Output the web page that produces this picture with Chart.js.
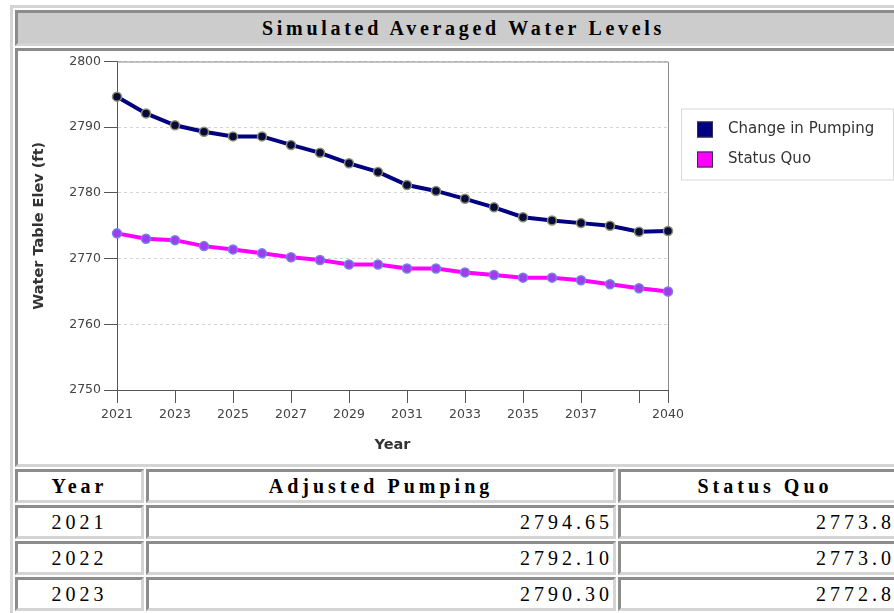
<!DOCTYPE html>
<html lang="en">
<head>
    <meta charset="UTF-8">
    <script src="https://cdn.jsdelivr.net/npm/chart.js@4.4.0/dist/chart.umd.min.js"></script>
    <style>
        html, body {
            margin: 0;
            padding: 0;
            background: #fff;
            overflow: hidden;
        }

        .frame {
            position: absolute;
            left: 10px;
            top: 5px;
            width: 907px;
            table-layout: fixed;
            border-collapse: separate;
            border-spacing: 2px;
            border: 3px solid;
            border-color: #d4d4d4 #8c8c8c #8c8c8c #d4d4d4;
        }

        .frame td {
            box-sizing: border-box;
            padding: 0;
            border: 3px solid;
            border-color: #8c8c8c #d4d4d4 #d4d4d4 #8c8c8c;
            font-family: "Liberation Serif", serif;
            font-size: 20px;
            letter-spacing: 4px;
            vertical-align: middle;
            white-space: nowrap;
            overflow: hidden;
        }

        .frame td.title {
            height: 36px;
            background: #cccccc;
            text-align: center;
            font-weight: bold;
            letter-spacing: 3.7px;
        }

        .frame td.chartcell {
            height: 419px;
            vertical-align: top;
            letter-spacing: 0;
        }

        .frame td.head {
            height: 34px;
            text-align: center;
            font-weight: bold;
        }

        .frame td.num {
            height: 34px;
            text-align: right;
        }

        .frame td.yr {
            height: 34px;
            text-align: center;
        }

        canvas {
            display: block;
            letter-spacing: 0;
        }
    </style>
    <title>Simulated Averaged Water Levels</title>
</head>
<body>
    <table class="frame" id="frame">
        <colgroup>
            <col style="width: 129px">
            <col style="width: 470px">
            <col style="width: 294px">
        </colgroup>
        <tr><td class="title" colspan="3">Simulated Averaged Water Levels</td></tr>
        <tr><td class="chartcell" colspan="3"><canvas id="levelsChart" width="891" height="413"></canvas></td></tr>
        <tr>
            <td class="head">Year</td>
            <td class="head">Adjusted Pumping</td>
            <td class="head">Status Quo</td>
        </tr>
    </table>

    <script>
        const years = [2021, 2022, 2023, 2024, 2025, 2026, 2027, 2028, 2029, 2030,
                       2031, 2032, 2033, 2034, 2035, 2036, 2037, 2038, 2039, 2040];
        const pumping = [2794.65, 2792.10, 2790.30, 2789.30, 2788.60, 2788.60, 2787.30, 2786.10, 2784.50, 2783.20,
                         2781.20, 2780.30, 2779.10, 2777.80, 2776.30, 2775.80, 2775.40, 2775.00, 2774.10, 2774.20];
        const statusQuo = [2773.84, 2773.02, 2772.81, 2771.90, 2771.40, 2770.80, 2770.20, 2769.80, 2769.10, 2769.10,
                           2768.50, 2768.50, 2767.90, 2767.50, 2767.10, 2767.10, 2766.70, 2766.10, 2765.50, 2765.00];
        const xTickValues = [2021, 2023, 2025, 2027, 2029, 2031, 2033, 2035, 2037, 2039, 2040];
        const xTickLabels = ['2021', '2023', '2025', '2027', '2029', '2031', '2033', '2035', '2037', '', '2040'];
        const yTickValues = [2750, 2760, 2770, 2780, 2790, 2800];
        const yTickLabels = ['2750', '2760', '2770', '2780', '2790', '2800'];

        // data rows under the chart
        const table = document.getElementById('frame');
        years.forEach((yr, i) => {
            const row = table.insertRow();
            const c1 = row.insertCell(); c1.className = 'yr'; c1.textContent = yr;
            const c2 = row.insertCell(); c2.className = 'num'; c2.textContent = pumping[i].toFixed(2);
            const c3 = row.insertCell(); c3.className = 'num'; c3.textContent = statusQuo[i].toFixed(2);
        });

        // gray top/right edges of the plot box
        const plotFrame = {
            id: 'plotFrame',
            beforeDatasetsDraw(chart) {
                const { ctx, chartArea: a } = chart;
                ctx.save();
                ctx.strokeStyle = '#8a8a8a';
                ctx.lineWidth = 1;
                ctx.beginPath();
                ctx.moveTo(a.left, a.top + 0.5);
                ctx.lineTo(a.right + 0.5, a.top + 0.5);
                ctx.lineTo(a.right + 0.5, a.bottom);
                ctx.stroke();
                ctx.restore();
            }
        };

        // boxed legend to the right of the plot
        const boxLegend = {
            id: 'boxLegend',
            afterDraw(chart) {
                const { ctx, chartArea: a } = chart;
                const x = a.right + 13, y = a.top + 47;
                ctx.save();
                ctx.fillStyle = '#fff';
                ctx.fillRect(x, y, 212, 71);
                ctx.strokeStyle = '#d8d8d8';
                ctx.lineWidth = 1;
                ctx.strokeRect(x + 0.5, y + 0.5, 212, 71);
                ctx.font = '15px "DejaVu Sans"';
                ctx.textBaseline = 'middle';
                chart.data.datasets.forEach((ds, i) => {
                    const sy = y + 13 + i * 30;
                    ctx.fillStyle = ds.borderColor;
                    ctx.fillRect(x + 16, sy, 16, 16);
                    ctx.strokeStyle = '#303040';
                    ctx.strokeRect(x + 16.5, sy + 0.5, 15, 15);
                    ctx.fillStyle = '#333';
                    ctx.fillText(ds.label, x + 47, sy + 8);
                });
                ctx.restore();
            }
        };

        const ctx = document.getElementById('levelsChart').getContext('2d');
        new Chart(ctx, {
            type: 'line',
            data: {
                datasets: [
                    {
                        label: 'Change in Pumping',
                        data: years.map((yr, i) => ({ x: yr, y: pumping[i] })),
                        borderColor: '#000080',
                        borderWidth: 4,
                        pointRadius: 4.5,
                        pointBorderWidth: 1.5,
                        pointBackgroundColor: '#0a0a3a',
                        pointBorderColor: '#8a9270',
                        tension: 0,
                        clip: false
                    },
                    {
                        label: 'Status Quo',
                        data: years.map((yr, i) => ({ x: yr, y: statusQuo[i] })),
                        borderColor: '#ff00ff',
                        borderWidth: 4,
                        pointRadius: 4.5,
                        pointBorderWidth: 1.5,
                        pointBackgroundColor: '#a03cf0',
                        pointBorderColor: '#7484e4',
                        tension: 0,
                        clip: false
                    }
                ]
            },
            options: {
                responsive: false,
                animation: false,
                layout: { padding: { top: 10, right: 241, left: 0, bottom: 0 } },
                plugins: {
                    legend: { display: false },
                    tooltip: { enabled: false }
                },
                scales: {
                    x: {
                        type: 'linear',
                        min: years[0],
                        max: years[years.length - 1],
                        afterBuildTicks: (scale) => { scale.ticks = xTickValues.map(v => ({ value: v })); },
                        afterFit: (scale) => { scale.height = 74; },
                        ticks: {
                            autoSkip: false,
                            maxRotation: 0,
                            padding: 4,
                            color: '#444',
                            font: { family: 'DejaVu Sans', size: 12.5 },
                            callback: (v) => xTickLabels[xTickValues.indexOf(v)]
                        },
                        grid: {
                            drawOnChartArea: false,
                            drawTicks: true,
                            tickLength: 13,
                            tickColor: '#555',
                            color: '#555'
                        },
                        border: { color: '#555', width: 1 },
                        title: {
                            display: true,
                            text: 'Year',
                            color: '#333',
                            font: { family: 'DejaVu Sans', size: 14.5, weight: 'bold' },
                            padding: { top: 0, bottom: 10 }
                        }
                    },
                    y: {
                        min: 2750,
                        max: 2800,
                        afterBuildTicks: (scale) => { scale.ticks = yTickValues.map(v => ({ value: v })); },
                        afterFit: (scale) => { scale.width = 99; },
                        ticks: {
                            padding: 3,
                            color: '#444',
                            font: { family: 'DejaVu Sans', size: 12.5 },
                            callback: (v) => yTickLabels[yTickValues.indexOf(v)]
                        },
                        grid: {
                            color: '#d4d4d4',
                            tickLength: 13,
                            tickColor: '#555'
                        },
                        border: { color: '#555', width: 1, dash: [3, 3] },
                        title: {
                            display: true,
                            text: 'Water Table Elev (ft)',
                            color: '#333',
                            font: { family: 'DejaVu Sans', size: 14.5, weight: 'bold' },
                            padding: { top: 13, bottom: 0 }
                        }
                    }
                }
            },
            plugins: [plotFrame, boxLegend]
        });
    </script>
</body>
</html>
